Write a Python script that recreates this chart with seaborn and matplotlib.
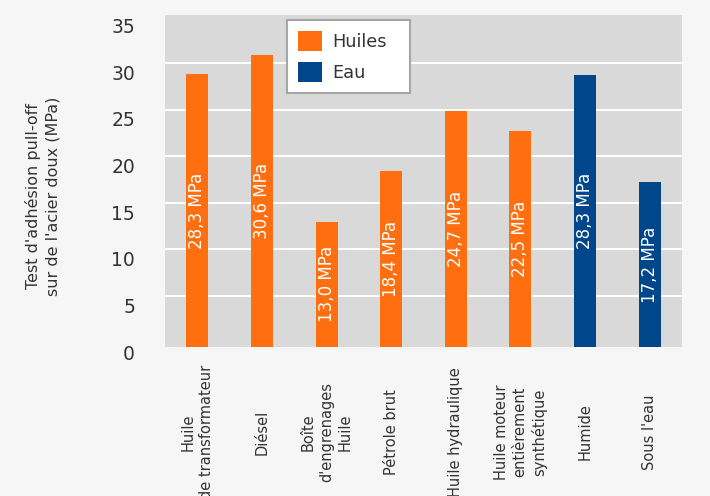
import matplotlib
matplotlib.use("Agg")
import matplotlib.pyplot as plt
import matplotlib.transforms as mtransforms
import numpy as np
import pandas as pd
import seaborn as sns

# ---- data ----
categories = [
    "Huile\nde transformateur",
    "Diésel",
    "Boîte\nd'engrenages\nHuile",
    "Pétrole brut",
    "Huile hydraulique",
    "Huile moteur\nentièrement\nsynthétique",
    "Humide",
    "Sous l'eau",
]
groups = ["Huiles", "Huiles", "Huiles", "Huiles", "Huiles", "Huiles", "Eau", "Eau"]
heights = [28.8, 30.9, 13.0, 18.4, 24.9, 22.7, 28.7, 17.2]        # drawn bar heights
label_values = [28.3, 30.6, 13.0, 18.4, 24.7, 22.5, 28.3, 17.2]   # printed values
group_order = ["Huiles", "Eau"]
yticks = [0, 5, 10, 15, 20, 25, 30, 35]
ylabel = "Test d'adhésion pull-off\nsur de l'acier doux (MPa)"
unit = "MPa"

colors = {"Huiles": "#ff6e0f", "Eau": "#00468b"}
text_color = "#333333"
ymin, ymax = -0.46, 35.15

sns.set_style("white")
plt.rcParams["font.family"] = ["DejaVu Sans"]

fig = plt.figure(figsize=(7.1, 4.96), dpi=100, facecolor="#f6f6f6")
ax = fig.add_axes([165 / 710, 1 - 347 / 496, 517 / 710, (347 - 15) / 496])
ax.set_facecolor("#d9d9d9")

df = pd.DataFrame({"cat": categories, "val": heights, "grp": groups})
sns.barplot(data=df, x="cat", y="val", hue="grp", hue_order=group_order,
            palette=colors, dodge=False, width=0.34, errorbar=None,
            saturation=1, linewidth=0, edgecolor="none", ax=ax)

# bars start at the bottom edge of the plot area, as in the reference
for cont in ax.containers:
    for b in cont:
        h = b.get_height()
        if h is not None and not np.isnan(h):
            top = b.get_y() + h
            b.set_y(ymin)
            b.set_height(top - ymin)

# bar value labels
val_by_pos = dict(zip(range(len(categories)), label_values))
for cont in ax.containers:
    labs = []
    for b in cont:
        h = b.get_height()
        if h is None or np.isnan(h):
            labs.append("")
            continue
        pos = int(round(b.get_x() + b.get_width() / 2))
        labs.append(f"{val_by_pos[pos]:.1f}".replace(".", ",") + " " + unit)
    ax.bar_label(cont, labels=labs, label_type="center", rotation=90,
                 color="white", fontsize=12)

# axes styling
ax.set_ylim(ymin, ymax)
ax.set_yticks(yticks)
for s in ax.spines.values():
    s.set_visible(False)
ax.yaxis.grid(True, color="white", linewidth=1.5)
ax.xaxis.grid(False)
ax.set_axisbelow(True)
gl = ax.get_ygridlines()
gl[-1].set_visible(False)
gl[0].set_visible(False)

ax.tick_params(axis="y", length=0, pad=21.6, labelsize=13.5, labelcolor=text_color)
ax.tick_params(axis="x", length=0, pad=61.2, labelsize=10.5, labelcolor=text_color)
for lab in ax.get_xticklabels():
    lab.set_rotation(90)
    lab.set_ha("center")
    lab.set_va("center")
    lab.set_multialignment("center")
    lab.set_linespacing(1.27)
offset = mtransforms.ScaledTranslation(0, -9.3 / 100, fig.dpi_scale_trans)
for lab in ax.get_yticklabels():
    lab.set_transform(lab.get_transform() + offset)

ax.set_xlabel("")
ax.set_ylabel(ylabel, fontsize=11.5, color=text_color, linespacing=1.35,
              va="center", ha="center", multialignment="center")
ax.yaxis.set_label_coords((43 - 165) / 517, (347 - 196) / 332)

# legend
handles, labels = ax.get_legend_handles_labels()
leg = ax.legend(handles, labels, loc="upper left",
                bbox_to_anchor=(287 / 710, 1 - 100.7 / 496, 123 / 710, 80.7 / 496),
                bbox_transform=fig.transFigure, mode="expand", borderaxespad=0,
                fontsize=12.8, handlelength=1.38, handleheight=1.38,
                handletextpad=0.57, labelspacing=0.6, borderpad=0.6,
                frameon=True, fancybox=False, facecolor="white",
                edgecolor="#a6a6a6", framealpha=1)
leg.get_frame().set_linewidth(1.5)
for t in leg.get_texts():
    t.set_color(text_color)

fig.savefig("out.png", dpi=100, facecolor=fig.get_facecolor())
